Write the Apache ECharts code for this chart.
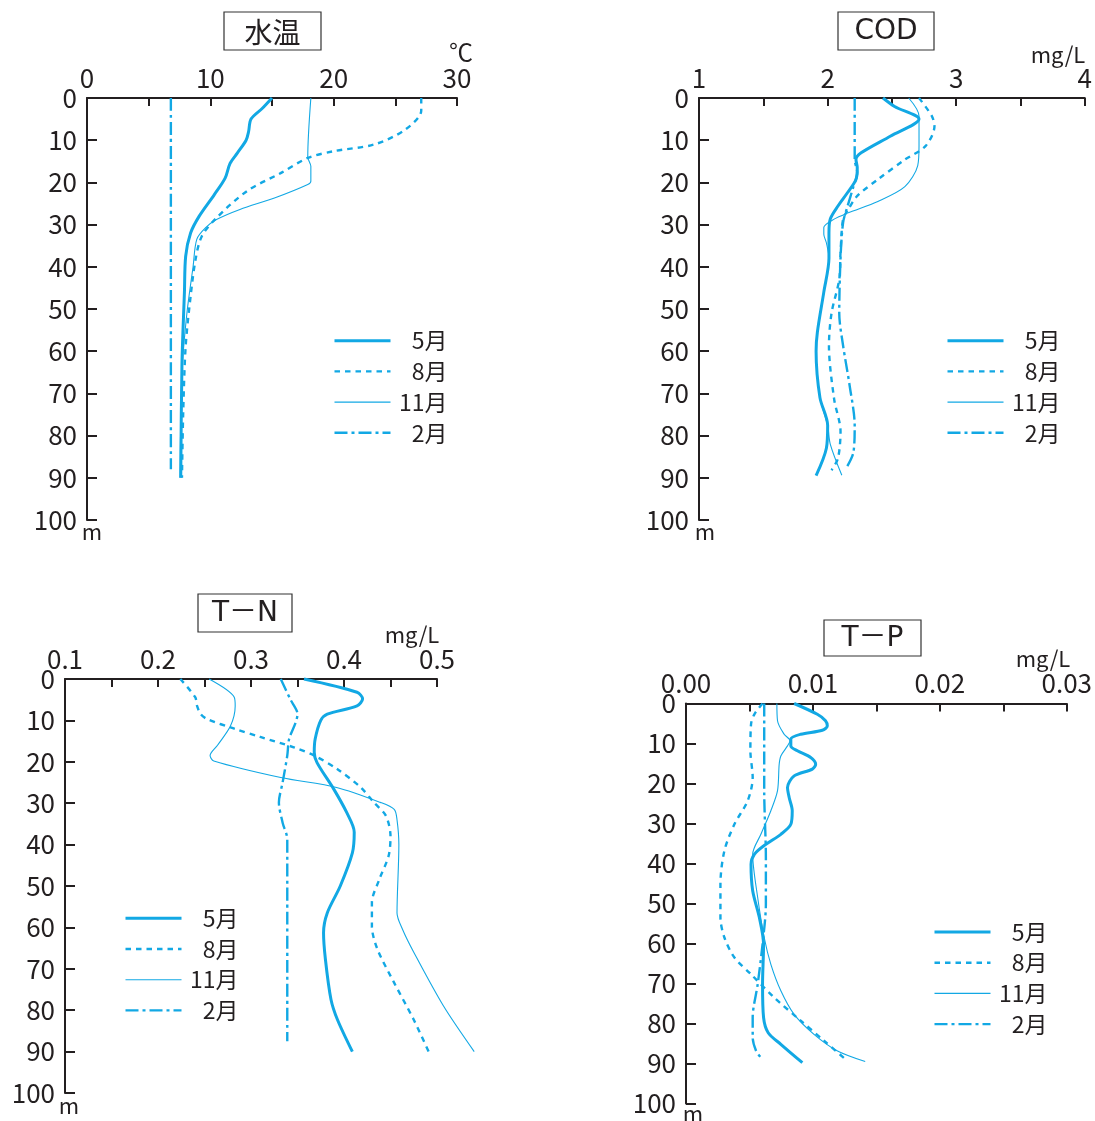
<!DOCTYPE html>
<html>
<head>
<meta charset="utf-8">
<script src="https://cdn.jsdelivr.net/npm/echarts@6/dist/echarts.min.js"></script>
<style>
html,body{margin:0;padding:0;background:#fff;}
#chart{width:1095px;height:1121px;}
</style>
</head>
<body>
<div id="chart"></div>
<script>
// ---------- DATA : [value, depth(m)] ----------
const months = ['5月', '8月', '11月', '2月'];

// 水温 (℃)
const tempMay = [[15.0,0],[14.2,2.5],[13.3,5],[13.1,8],[12.9,10],[12.2,13],[11.6,15.5],[11.2,19],[10.3,23],[9.1,28],[8.4,32],[8.0,37.5],[7.9,46],[7.7,63],[7.6,90]];
const tempAug = [[27.1,0],[27.1,3],[25.8,7.5],[23.3,11],[20.0,12.6],[17.9,14.2],[15.7,17.8],[13.0,22],[10.5,28.4],[9.3,32.8],[8.8,38.3],[8.4,47],[8.0,58.8],[7.8,74.6],[7.7,90]];
const tempNov = [[18.15,0],[17.9,14],[18.15,16.2],[18.15,19.7],[17.9,20.5],[15.2,23.7],[12.4,26.4],[10.5,28.8],[9.6,30.8],[8.9,33.5],[8.6,40],[8.1,51],[7.7,65],[7.55,90]];
const tempFeb = [[6.8,0],[6.8,88]];

// COD (mg/L)
const codMay = [[2.43,0],[2.52,2],[2.71,5],[2.49,9],[2.26,13],[2.22,14.6],[2.23,16.5],[2.22,19.3],[2.155,22.4],[2.08,25.6],[2.02,28.7],[2.01,32],[2.01,38],[1.97,46],[1.92,55.5],[1.91,60],[1.94,71],[2.0,77.6],[1.99,83],[1.91,89.5]];
const codAug = [[2.71,0],[2.81,4.3],[2.83,6.7],[2.76,11.4],[2.6,14.6],[2.39,19.3],[2.23,23.2],[2.16,26.4],[2.12,28.7],[2.10,36.6],[2.09,43],[2.03,51],[2.01,58.7],[2.05,71.3],[2.10,79],[2.08,85.4],[2.03,88.2]];
const codNov = [[2.63,0],[2.71,4.3],[2.71,11.4],[2.70,16],[2.60,21],[2.39,24.5],[2.16,27.2],[2.05,28.7],[1.97,30.7],[1.97,32.3],[1.99,34.3],[2.01,38],[1.97,46],[1.92,55.5],[1.91,60],[1.94,71],[2.0,77.6],[2.02,82],[2.11,89.4]];
const codFeb = [[2.21,0],[2.21,14.6],[2.23,17.7],[2.20,21],[2.155,25.6],[2.12,29.5],[2.10,38],[2.09,51],[2.12,58.7],[2.17,68],[2.21,77.6],[2.20,84],[2.15,87.4]];

// T-N (mg/L)
const tnMay = [[0.357,0],[0.414,3.2],[0.42,4.8],[0.414,6.5],[0.382,8.5],[0.375,10],[0.369,14.5],[0.368,17.7],[0.371,20.2],[0.389,26.6],[0.403,32.3],[0.411,37],[0.409,42],[0.396,50],[0.382,56.5],[0.378,61.3],[0.380,67.7],[0.386,77.4],[0.393,82.3],[0.409,90]];
const tnAug = [[0.224,0],[0.240,4.4],[0.242,6.5],[0.246,8.5],[0.253,9.7],[0.282,12],[0.310,14],[0.346,16.5],[0.368,18.5],[0.393,21.8],[0.418,26.2],[0.432,29.8],[0.445,33],[0.450,38],[0.448,42.7],[0.438,48.4],[0.430,54],[0.430,59.7],[0.436,65.3],[0.454,73.4],[0.475,82.3],[0.491,90]];
const tnNov = [[0.255,0],[0.282,4.4],[0.283,6.5],[0.278,11.3],[0.264,16],[0.256,18.5],[0.260,19.8],[0.332,23.8],[0.392,26.2],[0.439,29.8],[0.454,31.5],[0.457,34],[0.459,40],[0.457,56.5],[0.463,60.5],[0.475,66],[0.507,79],[0.540,90]];
const tnFeb = [[0.332,0],[0.342,4.8],[0.350,8.5],[0.348,10.5],[0.341,14.5],[0.339,18.5],[0.334,25],[0.330,29.8],[0.334,34.7],[0.339,38.7],[0.339,43.5],[0.339,87.5]];

// T-P (mg/L)
const tpMay = [[0.00845,0],[0.01026,2.7],[0.0109,4.3],[0.01104,5.6],[0.01065,6.7],[0.00896,7.7],[0.00819,8.9],[0.00819,10.6],[0.0087,11.8],[0.00974,13.5],[0.01013,15.2],[0.00987,16.4],[0.00845,18.1],[0.00793,21],[0.00806,23.5],[0.0083,26.8],[0.00819,30.2],[0.00741,32.7],[0.00624,35.2],[0.00534,37.7],[0.00508,40.2],[0.00521,46.8],[0.00573,53.5],[0.00606,60.2],[0.00598,70.2],[0.00606,78.5],[0.00642,82.3],[0.00741,85.2],[0.00909,89.8]];
const tpAug = [[0.00598,0],[0.00534,2.7],[0.00508,5.2],[0.00503,11.8],[0.00521,18.5],[0.00482,24.3],[0.00378,30.2],[0.0030,36.8],[0.00269,45.2],[0.00269,53.5],[0.0030,58.5],[0.00378,63.5],[0.00508,67.7],[0.00689,73.5],[0.00896,79.3],[0.01078,84.3],[0.01259,89.3]];
const tpNov = [[0.0071,0],[0.00715,4.3],[0.00767,7.7],[0.00813,9.3],[0.00793,10.6],[0.00741,13.1],[0.00728,15.2],[0.00715,21.8],[0.00663,26.8],[0.00585,32.7],[0.00521,37.7],[0.0056,48.5],[0.00611,58.5],[0.00663,65.2],[0.00741,71.8],[0.00845,77.7],[0.0100,82.7],[0.0118,86.8],[0.0140,89.5]];
const tpFeb = [[0.00611,0],[0.00611,21.8],[0.00624,38.5],[0.00624,50.2],[0.00598,60.2],[0.0056,70.2],[0.00521,78.5],[0.00521,83.5],[0.00547,86.8],[0.00585,88.5]];

// axis tick labels
const tempLabels = ['0', '10', '20', '30'];
const codLabels = ['1', '2', '3', '4'];
const tnLabels = ['0.1', '0.2', '0.3', '0.4', '0.5'];
const tpLabels = ['0.00', '0.01', '0.02', '0.03'];
const titles = ['水温', 'COD', 'T－N', 'T－P'];
const units = ['℃', 'mg/L', 'mg/L', 'mg/L'];

// ---------- STYLE ----------
const C = '#12a8e4';
const INK = '#231f20';
const FONT = '"Noto Sans CJK JP", "Noto Sans", sans-serif';
const FONT_T = '"DejaVu Sans", "Noto Sans CJK JP", sans-serif';

// plotMax: extent of the (hidden) data axis, to let a profile run past the printed axis end
const panels = [
  { left: 87, top: 98, width: 370, height: 422, min: 0, max: 30, plotMax: 30, interval: 5, labels: tempLabels, dec: 0,
    data: [tempMay, tempAug, tempNov, tempFeb], legend: [328, 324.2],
    box: [224, 12, 97, 38], unit: [461, 52], m: [92, 532] },
  { left: 699, top: 98, width: 386, height: 422, min: 1, max: 4, plotMax: 4, interval: 0.5, labels: codLabels, dec: 0,
    data: [codMay, codAug, codNov, codFeb], legend: [941, 324.2],
    box: [838, 12, 96, 38], unit: [1058, 55], m: [705, 532] },
  { left: 65, top: 679, width: 372, height: 414, min: 0.1, max: 0.5, plotMax: 0.55, interval: 0.05, labels: tnLabels, dec: 1,
    data: [tnMay, tnAug, tnNov, tnFeb], legend: [119, 901.8],
    box: [198, 594, 94, 38], unit: [412, 635], m: [69, 1106] },
  { left: 686, top: 703.5, width: 384, height: 400, min: 0, max: 0.03, plotMax: 0.03, interval: 0.005, labels: tpLabels, dec: 2,
    data: [tpMay, tpAug, tpNov, tpFeb], legend: [928, 915.5],
    box: [824, 620, 97, 36], unit: [1043, 659], m: [693, 1114] }
];

const lineStyles = [
  { width: 3, type: 'solid' },
  { width: 2.4, type: [5.5, 5] },
  { width: 1.1, type: 'solid' },
  { width: 2.4, type: [13, 4, 3, 4] }
];

const grid = [], xAxis = [], yAxis = [], series = [], legend = [], graphic = [];
const n = panels.length;

panels.forEach((p, i) => {
  // visible axes
  grid.push({ left: p.left, top: p.top, width: p.width, height: p.height, containLabel: false });
  xAxis.push({
    gridIndex: i, type: 'value', position: 'top', min: p.min, max: p.max, interval: p.interval,
    axisLine: { show: true, onZero: false, lineStyle: { color: INK, width: 2 } },
    axisTick: { show: true, inside: true, length: 8, lineStyle: { color: INK, width: 2 } },
    splitLine: { show: false },
    axisLabel: {
      show: true, margin: 7, color: INK, fontSize: 26, fontFamily: FONT,
      formatter: v => {
        const s = v.toFixed(p.dec);
        return p.labels.indexOf(s) >= 0 && Math.abs(Number(s) - v) < 1e-9 ? s : '';
      }
    }
  });
  yAxis.push({
    gridIndex: i, type: 'value', inverse: true, min: 0, max: 100, interval: 10,
    axisLine: { show: true, onZero: false, lineStyle: { color: INK, width: 2 } },
    axisTick: { show: true, inside: true, length: 10, lineStyle: { color: INK, width: 2 } },
    splitLine: { show: false },
    axisLabel: { show: true, margin: 10, color: INK, fontSize: 26, fontFamily: FONT }
  });
});

panels.forEach((p, i) => {
  // hidden data axes sharing the same scale
  const gi = n + i;
  const w = p.width * (p.plotMax - p.min) / (p.max - p.min);
  grid.push({ left: p.left, top: p.top, width: w, height: p.height, containLabel: false });
  xAxis.push({ gridIndex: gi, type: 'value', position: 'top', min: p.min, max: p.plotMax, show: false, splitLine: { show: false } });
  yAxis.push({ gridIndex: gi, type: 'value', inverse: true, min: 0, max: 100, show: false, splitLine: { show: false } });
  p.data.forEach((d, k) => {
    series.push({
      name: months[k], type: 'line', xAxisIndex: gi, yAxisIndex: gi, data: d,
      smooth: 0.3, symbol: 'none', clip: false,
      lineStyle: { color: C, width: lineStyles[k].width, type: lineStyles[k].type },
      itemStyle: { color: C },
      z: 3
    });
  });
  legend.push({
    data: months, orient: 'vertical', left: p.legend[0], top: p.legend[1],
    itemWidth: 56, itemHeight: 12, itemGap: 7.7, selectedMode: false,
    itemStyle: { color: 'rgba(0,0,0,0)', borderWidth: 0, opacity: 0 },
    lineStyle: { width: 'inherit', type: 'inherit', color: 'inherit' },
    formatter: name => '{a|' + name + '}',
    textStyle: {
      color: INK, fontSize: 23, fontFamily: FONT,
      rich: { a: { width: 52, align: 'right', fontSize: 23, fontFamily: FONT, color: INK, lineHeight: 23, height: 23 } }
    }
  });
  const b = p.box;
  graphic.push({
    type: 'rect', shape: { x: b[0], y: b[1], width: b[2], height: b[3] },
    style: { fill: '#fff', stroke: '#333', lineWidth: 1.2 }, z: 10
  });
  graphic.push({
    type: 'text', x: b[0] + b[2] / 2, y: b[1] + b[3] / 2 + 1, z: 11,
    style: { text: titles[i], fill: INK, font: (i === 0 ? '28px ' + FONT : '28px ' + FONT_T), align: 'center', verticalAlign: 'middle', textAlign: 'center', textVerticalAlign: 'middle' }
  });
  graphic.push({
    type: 'text', x: p.unit[0], y: p.unit[1], z: 11,
    style: { text: units[i], fill: INK, font: (i === 0 ? '24px ' : '22px ') + FONT, align: 'center', verticalAlign: 'middle', textAlign: 'center', textVerticalAlign: 'middle' }
  });
  graphic.push({
    type: 'text', x: p.m[0], y: p.m[1], z: 11,
    style: { text: 'm', fill: INK, font: '22px ' + FONT, align: 'center', verticalAlign: 'middle', textAlign: 'center', textVerticalAlign: 'middle' }
  });
});

const chart = echarts.init(document.getElementById('chart'), null, { renderer: 'canvas' });
chart.setOption({
  animation: false,
  backgroundColor: '#fff',
  textStyle: { fontFamily: FONT },
  grid, xAxis, yAxis, series, legend, graphic
});
</script>
</body>
</html>
